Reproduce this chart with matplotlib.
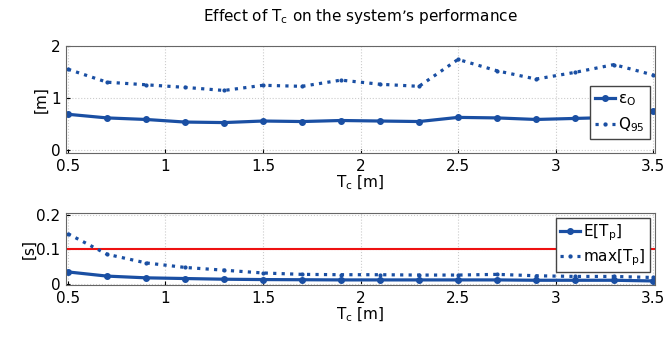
import matplotlib
matplotlib.use("Agg")
import matplotlib.pyplot as plt

tc = [0.5, 0.7, 0.9, 1.1, 1.3, 1.5, 1.7, 1.9, 2.1, 2.3, 2.5, 2.7, 2.9, 3.1, 3.3, 3.5]
eps_o = [0.69, 0.62, 0.59, 0.54, 0.53, 0.56, 0.55, 0.57, 0.56, 0.55, 0.63, 0.62, 0.59, 0.61, 0.63, 0.75]
q95 = [1.56, 1.31, 1.26, 1.21, 1.15, 1.25, 1.23, 1.35, 1.27, 1.23, 1.75, 1.53, 1.37, 1.50, 1.65, 1.45]
e_tp = [0.035, 0.023, 0.018, 0.016, 0.014, 0.013, 0.0125, 0.012, 0.012, 0.012, 0.012, 0.012, 0.011, 0.011, 0.011, 0.009]
max_tp = [0.145, 0.086, 0.061, 0.048, 0.040, 0.032, 0.028, 0.027, 0.027, 0.026, 0.026, 0.028, 0.024, 0.022, 0.022, 0.019]
threshold = 0.1

blue = "#1a4fa3"
fig = plt.figure(figsize=(6.67, 3.52), dpi=100)
ax1 = fig.add_axes([0.099, 0.565, 0.883, 0.303])
ax2 = fig.add_axes([0.099, 0.190, 0.883, 0.205])

for ax in (ax1, ax2):
    ax.grid(True, linestyle=":", color="#cccccc", linewidth=0.8)
    ax.set_xlim(0.49, 3.51)
    ax.set_xticks([0.5, 1, 1.5, 2, 2.5, 3, 3.5])
    ax.set_xticklabels(["0.5", "1", "1.5", "2", "2.5", "3", "3.5"])
    ax.tick_params(labelsize=11, direction="in", length=3)
    ax.tick_params(axis="x", pad=4)
    ax.tick_params(axis="y", pad=4)
    for s in ax.spines.values():
        s.set_color("#666666")
        s.set_linewidth(0.8)
    ax.set_xlabel("T$_\\mathregular{c}$ [m]", fontsize=11, labelpad=0)

ax1.plot(tc, eps_o, "-", color=blue, lw=2.3, marker="o", ms=4, label="$\\mathregular{\\epsilon_O}$")
ax1.plot(tc, q95, ":", color=blue, lw=2.3, marker=".", ms=4, label="Q$_\\mathregular{95}$")
ax1.set_ylim(-0.06, 2.0)
ax1.set_yticks([0, 1, 2])
ax1.set_ylabel("[m]", fontsize=11, labelpad=2)
ax1.legend(loc="center right", bbox_to_anchor=(1.0, 0.38), fontsize=11, fancybox=False,
           edgecolor="#444444", framealpha=1, handlelength=1.3, handletextpad=0.2,
           borderpad=0.35, labelspacing=0.5, borderaxespad=0.3)
ax1.set_title("Effect of T$_\\mathregular{c}$ on the system\u2019s performance", fontsize=11, pad=18)

ax2.axhline(threshold, color="#ee1111", lw=1.5)
ax2.plot(tc, e_tp, "-", color=blue, lw=2.3, marker="o", ms=4, label="E[T$_\\mathregular{p}$]")
ax2.plot(tc, max_tp, ":", color=blue, lw=2.3, marker=".", ms=4, label="max[T$_\\mathregular{p}$]")
ax2.set_ylim(-0.003, 0.205)
ax2.set_yticks([0, 0.1, 0.2])
ax2.set_yticklabels(["0", "0.1", "0.2"])
ax2.set_ylabel("[s]", fontsize=11, labelpad=0)
ax2.legend(loc="upper right", fontsize=11, fancybox=False,
           edgecolor="#444444", framealpha=1, handlelength=1.3, handletextpad=0.2,
           borderpad=0.3, labelspacing=0.3, borderaxespad=0.3)

fig.savefig("out.png", dpi=100)
